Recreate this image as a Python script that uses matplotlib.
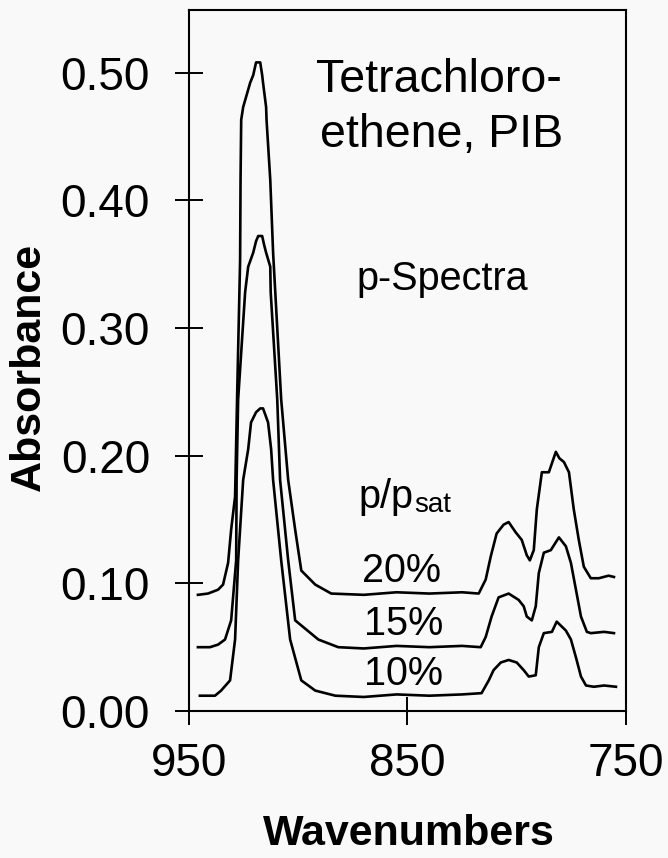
import matplotlib
matplotlib.use("Agg")
import matplotlib.pyplot as plt

plt.rcParams['font.family'] = ['Liberation Sans', 'DejaVu Sans']

wn_20 = [945.9, 941.3, 936.7, 934.4, 932.1, 930.7, 928.9, 928.0, 926.6, 926.4, 926.1,
         925.2, 922.0, 920.6, 919.3, 917.4, 916.5, 916.1, 914.7, 914.5, 912.8, 911.5,
         907.8, 904.6, 901.4, 898.6, 892.2, 884.9, 870.0, 855.0, 840.0, 825.0, 817.4,
         814.2, 811.9, 809.2, 806.0, 803.7, 800.5, 797.7, 795.4, 794.0, 792.2, 790.8,
         788.5, 785.3, 782.1, 780.5, 778.4, 776.1, 773.9, 771.6, 769.3, 766.1, 762.4,
         758.0, 755.5]
abs_20 = [0.091, 0.092, 0.095, 0.099, 0.116, 0.142, 0.168, 0.244, 0.353, 0.416, 0.463,
          0.473, 0.492, 0.498, 0.508, 0.508, 0.498, 0.492, 0.473, 0.463, 0.416, 0.359,
          0.244, 0.181, 0.142, 0.110, 0.099, 0.092, 0.091, 0.093, 0.092, 0.093, 0.092,
          0.103, 0.121, 0.139, 0.146, 0.148, 0.140, 0.134, 0.122, 0.118, 0.126, 0.158,
          0.187, 0.187, 0.203, 0.198, 0.195, 0.187, 0.158, 0.134, 0.113, 0.104, 0.104,
          0.106, 0.105]

wn_15 = [945.9, 940.4, 936.7, 933.5, 930.7, 928.4, 928.2, 927.5, 924.3, 922.9, 920.6,
         919.3, 918.3, 916.5, 915.6, 914.7, 912.8, 912.6, 909.6, 908.3, 904.6, 901.4,
         890.8, 881.7, 870.0, 855.0, 840.0, 825.0, 816.5, 814.2, 811.5, 808.3, 803.7,
         799.1, 796.8, 795.4, 793.1, 791.3, 789.9, 787.6, 784.4, 780.7, 777.5, 775.2,
         772.9, 770.6, 767.9, 766.1, 760.0, 755.5]
abs_15 = [0.050, 0.050, 0.052, 0.056, 0.071, 0.118, 0.181, 0.244, 0.328, 0.348, 0.359,
          0.368, 0.372, 0.372, 0.365, 0.359, 0.348, 0.328, 0.244, 0.181, 0.118, 0.071,
          0.056, 0.050, 0.049, 0.051, 0.050, 0.051, 0.050, 0.058, 0.074, 0.089, 0.092,
          0.087, 0.082, 0.074, 0.071, 0.082, 0.108, 0.124, 0.126, 0.136, 0.129, 0.116,
          0.095, 0.074, 0.062, 0.061, 0.062, 0.061]

wn_10 = [945.0, 940.4, 938.1, 935.3, 931.2, 928.9, 927.5, 925.2, 922.9, 921.6, 919.3,
         917.4, 916.1, 913.8, 912.4, 911.5, 907.8, 903.7, 898.6, 892.2, 883.0, 870.0,
         855.0, 840.0, 825.0, 816.1, 812.8, 810.6, 807.3, 803.7, 800.0, 796.8, 794.5,
         791.3, 789.9, 787.6, 783.9, 781.7, 777.5, 775.2, 772.9, 770.6, 768.3, 764.7,
         760.0, 754.6]
abs_10 = [0.012, 0.012, 0.012, 0.016, 0.024, 0.056, 0.118, 0.181, 0.205, 0.226, 0.234,
          0.237, 0.237, 0.226, 0.205, 0.181, 0.118, 0.056, 0.024, 0.016, 0.012, 0.011,
          0.013, 0.012, 0.013, 0.014, 0.024, 0.032, 0.038, 0.040, 0.038, 0.032, 0.027,
          0.028, 0.050, 0.061, 0.062, 0.070, 0.063, 0.056, 0.042, 0.027, 0.020, 0.019,
          0.020, 0.019]

x_ticks = [950, 850, 750]
y_ticks = [0.0, 0.1, 0.2, 0.3, 0.4, 0.5]
y_ticklabels = ["0.00", "0.10", "0.20", "0.30", "0.40", "0.50"]

bg = '#f9f9f9'
fig = plt.figure(figsize=(6.68, 8.58), dpi=100, facecolor=bg)
ax = fig.add_axes([0.2829, 0.1713, 0.6542, 0.817], facecolor=bg)

for wn, a in [(wn_20, abs_20), (wn_15, abs_15), (wn_10, abs_10)]:
    ax.plot(wn, a, color='black', lw=1.9)

ax.set_xlim(950, 750)
ax.set_ylim(0, 0.549)
ax.set_xticks(x_ticks)
ax.set_yticks(y_ticks)
ax.set_yticklabels(y_ticklabels)
ax.tick_params(direction='inout', length=20, width=1.4, labelsize=33)
ax.tick_params(axis='y', pad=18)
ax.tick_params(axis='x', pad=12)
for s in ax.spines.values():
    s.set_linewidth(1.5)

# --- texts ---
ax.text(891.7, 0.485, "Tetrachloro-", fontsize=33.5, va='baseline')
ax.text(889.9, 0.442, "ethene, PIB", fontsize=33.5, va='baseline')
ax.text(873.4, 0.330, "p-Spectra", fontsize=28.5, va='baseline')
ax.text(872.5, 0.159, "p/p", fontsize=28.5, va='baseline')
ax.text(846.8, 0.156, "sat", fontsize=20, va='baseline')
ax.text(852.8, 0.101, "20%", fontsize=28.5, va='baseline', ha='center')
ax.text(851.8, 0.0596, "15%", fontsize=28.5, va='baseline', ha='center')
ax.text(851.8, 0.0204, "10%", fontsize=28.5, va='baseline', ha='center')

fig.text(29 / 668, 1 - 367 / 858, "Absorbance", rotation=90, fontsize=31,
         fontweight='bold', ha='center', va='center')
fig.text(409 / 668, 1 - 834 / 858, "Wavenumbers", fontsize=31,
         fontweight='bold', ha='center', va='center')

fig.savefig("out.png", dpi=100, facecolor=bg)
